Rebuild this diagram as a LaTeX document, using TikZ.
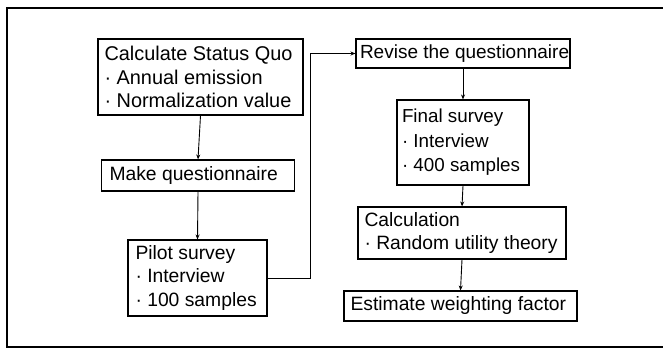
\documentclass[tikz,border=0pt]{standalone}
\usepackage{fontspec}
\setmainfont{Liberation Sans}
\usetikzlibrary{arrows.meta}
\tikzset{
  box/.style={draw, line width=1.1pt, align=flush left, inner xsep=6.5pt, inner ysep=2pt,
    font=\fontsize{19.3}{23.5}\selectfont, anchor=center},
  arr/.style={line width=0.9pt, -{Stealth[length=5pt,width=4pt]}},
  frame/.style={line width=1.4pt}
}
\newcommand{\bxline}[1]{\mbox{#1}}
\newcommand{\bul}{\textperiodcentered\ }
\begin{document}
\begin{tikzpicture}[x=1pt,y=-1pt]
\useasboundingbox (0,0) rectangle (663,349);
\draw[frame] (663,8) -- (7,8) -- (7,347) -- (663,347);
\node[box, minimum width=205pt, minimum height=76pt, text width=192pt, font=\fontsize{19.9}{23.5}\selectfont] (sq) at (200.5,77)
  {\bxline{Calculate Status Quo}\\\bxline{\bul Annual emission}\\\bxline{\bul Normalization value}};
\node[box, minimum width=190pt, minimum height=31pt, text width=177pt, inner xsep=8pt] (mq) at (198,175.5)
  {\bxline{Make questionnaire}};
\node[box, minimum width=139pt, minimum height=76pt, text width=124pt, inner xsep=7.5pt] (ps) at (197.5,278)
  {\bxline{Pilot survey}\\\bxline{\bul Interview}\\\bxline{\bul 100 samples}};
\node[box, minimum width=214pt, minimum height=29pt, text width=206pt, inner xsep=4pt, font=\fontsize{19}{23.5}\selectfont] (rq) at (463,53.5)
  {\bxline{Revise the questionnaire}};
\node[box, minimum width=132pt, minimum height=85pt, text width=122pt, inner xsep=5pt, font=\fontsize{18.8}{24.5}\selectfont] (fs) at (463,142.5)
  {\bxline{Final survey}\\\bxline{\bul Interview}\\\bxline{\bul 400 samples}};
\node[box, minimum width=208pt, minimum height=52pt, text width=195pt] (ca) at (462,233)
  {\bxline{Calculation}\\\bxline{\bul Random utility theory}};
\node[box, minimum width=233pt, minimum height=30pt, text width=220pt] (ew) at (460.5,306)
  {\bxline{Estimate weighting factor}};
\coordinate (jog) at (310,0);
\draw[arr] (sq.south) -- (mq.north);
\draw[arr] (mq.south) -- (ps.north);
\draw[arr] (ps.east) -- (ps.east -| jog) -- (jog |- rq.west) -- (rq.west);
\draw[arr] (rq.south) -- (fs.north);
\draw[arr] (fs.south) -- (ca.north);
\draw[arr] (ca.south) -- (ew.north);
\end{tikzpicture}
\end{document}
